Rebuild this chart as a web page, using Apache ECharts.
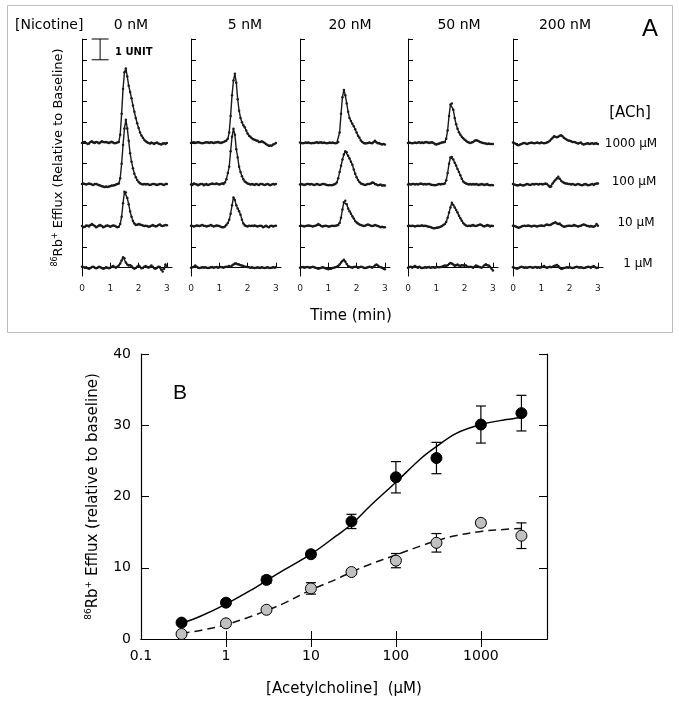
<!DOCTYPE html>
<html><head><meta charset="utf-8">
<script src="https://cdn.jsdelivr.net/npm/echarts@6/dist/echarts.min.js"></script>
<style>html,body{margin:0;padding:0;background:#fff}#c{width:679px;height:702px}</style>
</head><body><div id="c"></div>
<script>
// ---------- Panel A data ----------
const nicotineLabels = ['0 nM', '5 nM', '20 nM', '50 nM', '200 nM'];
const achLabels = ['1000 µM', '100 µM', '10 µM', '1 µM'];
const traceOffsets = [6, 4, 2, 0];           // vertical stacking of traces (units)
const timeStep = 0.05;                        // min between samples
const timeTicks = [0, 1, 2, 3];
const unitTicks = [0, 1, 2, 3, 4, 5, 6, 7, 8, 9, 10, 11];
const scaleBar = [[0.64, 10, 11]];            // 1 UNIT bar

const nic0_ach1000 = [0,.03,.05,0,-.05,-.03,.05,.08,.02,0,.05,.03,-.02,.02,.08,.05,.03,.05,.02,0,.03,.06,.02,-.02,0,.02,
 .05,.4,1.4,2.6,3.4,3.58,3.2,2.75,2.45,2.15,1.8,1.5,1.2,.95,.72,.5,.36,.25,.15,.08,.03,
 0,-.03,.02,-.02,-.05,0,.02,-.03,-.05,-.08,-.03,-.02,-.05,0];
const nic0_ach100 = [.03,.05,.02,0,.03,.05,.02,0,-.02,.02,.03,0,-.03,-.05,-.08,-.1,-.12,-.1,-.12,-.1,-.08,-.05,-.05,-.03,0,.02,
 .05,.3,1.0,1.9,2.7,3.12,2.7,2.1,1.5,1.1,.78,.52,.35,.22,.12,.06,.02,
 0,.02,0,.03,0,-.02,0,.02,.03,0,-.02,0,.03,.02,0,-.02,.02,.03];
const nic0_ach10 = [0,-.05,-.03,.03,.02,-.02,.05,.1,.05,0,-.05,-.02,.03,.05,0,-.05,-.03,.02,.03,0,-.03,0,.03,.02,-.02,-.05,
 -.03,.1,.45,1.1,1.65,1.62,1.35,1.05,.7,.45,.25,.12,.05,.06,.1,.08,.05,
 .03,0,.02,0,-.03,-.02,.02,.05,.02,-.02,0,.05,.08,.02,0,.03,.05,.04];
const nic0_ach1 = [.05,.03,0,.02,-.03,-.05,-.02,.03,.05,0,-.03,0,.05,.02,-.02,-.05,-.03,.02,0,-.03,0,.05,.08,.03,0,.05,
 .1,.2,.35,.5,.45,.25,.15,.1,.12,.08,0,-.05,-.02,.05,.1,.05,-.03,
 -.02,.05,.08,.03,0,.05,.1,.05,-.03,-.05,0,.05,.03,-.1,-.18,-.05,.15,.05];

const nic5_ach1000 = [0,.02,.03,0,.02,.03,.02,0,-.02,0,.02,.03,.02,0,.03,.02,0,.02,.03,.05,.02,0,.02,.05,.08,.1,
 .2,.5,1.3,2.3,3.0,3.33,2.9,2.1,1.55,1.2,1.0,.85,.75,.6,.45,.35,.3,.22,.18,.15,.12,
 .1,.05,.05,.08,.05,0,-.05,-.1,-.14,-.12,-.13,-.08,-.05,0];
const nic5_ach100 = [0,-.02,.05,.03,0,-.03,0,.03,.02,-.03,0,.03,-.02,0,.03,.05,.02,.03,.05,.02,0,.03,.05,.03,.1,.25,
 .55,.85,1.6,2.3,2.68,2.4,1.7,1.3,.85,.6,.4,.25,.15,.1,.05,.02,0,
 .02,0,-.02,.02,0,-.02,.02,.03,0,-.02,0,.02,0,-.03,0,.02,0,.02];
const nic5_ach10 = [.02,0,-.02,0,.03,.02,0,.03,.05,.02,0,-.02,0,.02,.05,.02,-.02,0,.03,.02,0,-.03,-.05,-.05,-.02,.05,
 .15,.3,.6,1.0,1.38,1.25,1.0,.85,.72,.55,.3,.12,.03,0,-.02,.02,0,
 .02,0,.03,0,-.02,0,.02,0,-.05,-.02,.02,-.03,-.05,0,.02,-.02,0,.02];
const nic5_ach1 = [0,.02,.05,.1,.05,0,-.02,0,.02,0,.02,0,-.02,0,.02,.03,0,.02,.03,0,.02,.03,.02,0,.03,.05,
 .05,.08,.05,.1,.15,.2,.2,.17,.15,.12,.1,.08,.05,.05,.03,.02,0,
 .02,0,-.02,0,.02,0,-.02,.02,0,-.02,0,.02,0,-.02,0,.02,0,.02];

const nic20_ach1000 = [.02,0,-.02,0,.02,0,.02,0,-.02,0,0,.02,.03,0,.02,.03,0,.02,0,-.02,0,.02,0,.02,0,-.02,
 0,.05,.5,1.4,2.2,2.55,2.3,1.9,1.5,1.2,1.05,.92,.8,.66,.5,.35,.25,.12,.05,0,-.03,
 -.02,0,.02,0,-.02,.05,.1,.03,-.02,0,-.05,-.08,-.05,-.08];
const nic20_ach100 = [0,.02,0,-.02,0,.02,.03,0,.02,0,-.02,0,.02,0,-.02,0,.02,.03,0,-.02,-.03,-.02,-.03,-.02,0,.02,
 .1,.3,.6,.9,1.2,1.45,1.6,1.55,1.38,1.25,1.1,.95,.72,.52,.35,.22,.12,.05,.02,0,-.02,
 0,.03,.02,.05,.1,.08,.03,0,-.03,-.02,0,-.05,-.03,-.05];
const nic20_ach10 = [0,.02,0,-.02,0,.02,.03,.02,0,-.02,0,.02,.05,.1,.05,0,-.02,0,.02,0,-.02,-.02,0,.02,0,.02,
 .03,.05,.15,.4,.8,1.15,1.22,1.05,.85,.72,.6,.48,.36,.25,.17,.12,.08,.05,.03,0,.02,
 .05,.08,.05,.02,0,.02,.05,.03,0,-.02,-.05,-.03,-.05,-.05];
const nic20_ach1 = [0,.02,.03,0,.02,.03,.02,0,.02,.05,.02,0,-.03,-.05,-.03,0,.02,0,-.03,-.05,-.08,-.05,-.05,-.02,0,.02,
 .05,.08,.15,.25,.32,.38,.3,.18,.08,.05,.02,0,.03,.05,.03,0,.02,.05,.03,0,-.02,
 0,.02,.05,.03,0,.05,.1,.15,.1,.05,.02,0,-.05,-.08];

const nic50_ach1000 = [0,.02,0,-.02,0,.02,0,.02,.03,0,.02,0,.03,.05,.02,0,.02,.03,0,-.05,-.08,-.05,-.03,0,.02,.03,
 .05,.2,.6,1.3,1.85,1.9,1.6,1.2,.9,.68,.52,.4,.3,.22,.15,.1,.05,.02,0,.02,.05,
 .1,.13,.12,.08,.05,.02,0,-.02,-.03,-.05,-.03,-.05,-.05,-.05];
const nic50_ach100 = [0,.02,0,.02,.03,0,.02,0,.02,.05,.02,0,.02,0,.02,.03,0,-.02,-.02,-.03,-.02,0,.02,0,.02,.03,
 .05,.2,.55,1.0,1.3,1.33,1.2,1.05,.92,.75,.6,.45,.28,.15,.08,.05,.03,0,.02,0,.02,
 0,.02,0,-.02,0,.02,0,-.02,0,.02,-.02,-.03,-.02,-.03];
const nic50_ach10 = [0,.02,0,.02,0,-.02,0,.02,0,.02,.03,0,.02,0,-.02,-.03,-.05,-.08,-.1,-.1,-.08,-.08,-.05,-.03,0,.05,
 .1,.2,.4,.65,.9,1.12,1.02,.9,.78,.65,.5,.38,.26,.15,.08,.03,0,.02,0,.03,.05,
 .02,0,.03,.05,.08,.05,0,-.02,.02,.05,.03,-.02,.02,0];
const nic50_ach1 = [0,.03,.05,0,.05,.08,.03,0,.05,0,-.02,0,.02,0,.02,.03,0,.02,.02,0,.02,.03,.02,.03,.05,.08,
 .1,.08,.12,.18,.22,.2,.15,.08,.12,.15,.1,.08,.12,.1,.12,.1,.05,.03,.05,.03,0,
 .05,.1,.08,.05,.02,0,.05,.12,.16,.12,.1,.05,-.05,-.13];

const nic200_ach1000 = [.02,0,-.05,-.1,-.11,-.08,-.05,-.02,0,-.03,-.05,-.02,0,.02,0,-.02,0,.02,0,-.02,.02,0,-.02,0,.02,.05,
 .1,.18,.25,.32,.3,.28,.3,.35,.37,.32,.25,.2,.15,.12,.1,.08,.05,.05,.03,0,-.03,
 0,.02,-.05,-.08,-.05,-.03,-.02,-.05,-.03,-.02,-.05,-.03,-.02,-.05];
const nic200_ach100 = [.02,0,-.02,-.05,-.03,0,-.02,-.05,-.03,0,.02,0,-.02,0,.02,0,.02,.03,0,.02,.03,0,.02,.05,.03,-.05,
 -.12,-.1,.05,.15,.22,.3,.37,.28,.18,.12,.08,.05,.05,.03,.02,0,.02,0,-.02,0,.02,
 0,-.02,-.03,0,.02,0,-.03,-.02,0,.02,-.02,.02,.05,.05];
const nic200_ach10 = [.02,0,-.02,-.05,-.08,-.05,-.02,0,.02,0,.02,.03,0,-.02,0,.02,0,-.02,0,.02,.03,.02,0,.05,.08,.05,
 .05,.08,.12,.15,.18,.12,.1,.12,.05,0,-.03,-.02,0,.02,.02,0,.02,.05,.03,0,-.02,
 0,.02,.05,.08,.05,.02,0,-.02,0,-.02,-.03,0,.1,.02];
const nic200_ach1 = [.02,0,-.03,-.05,-.02,.02,.05,.02,0,.02,0,.02,.03,.02,0,.02,.03,0,.02,0,.02,.05,.08,.02,0,.02,
 .05,.02,.05,.08,.1,.13,.08,0,-.05,-.05,-.02,0,.02,0,.02,0,-.02,0,.02,.05,.02,
 0,.02,0,-.02,0,.02,.05,.03,0,.05,.08,.02,-.02,0];

const panelTraces = [
  [nic0_ach1000, nic0_ach100, nic0_ach10, nic0_ach1],
  [nic5_ach1000, nic5_ach100, nic5_ach10, nic5_ach1],
  [nic20_ach1000, nic20_ach100, nic20_ach10, nic20_ach1],
  [nic50_ach1000, nic50_ach100, nic50_ach10, nic50_ach1],
  [nic200_ach1000, nic200_ach100, nic200_ach10, nic200_ach1]
];

// ---------- Panel B data ----------
const achConc = [0.3, 1, 3, 10, 30, 100, 300, 1000, 3000];
const effluxControl = [2.3, 5.1, 8.3, 11.9, 16.5, 22.7, 25.4, 30.1, 31.7];
const effluxControlErr = [0.2, 0.4, 0.5, 0.4, 1.0, 2.2, 2.2, 2.6, 2.5];
const effluxNicotine = [0.7, 2.2, 4.1, 7.1, 9.4, 11.0, 13.5, 16.3, 14.5];
const effluxNicotineErr = [0.1, 0.2, 0.2, 0.8, 0.3, 1.0, 1.3, 0.4, 1.8];
const fitConc = [0.3, 0.5, 1, 2, 3, 5, 10, 20, 30, 50, 100, 200, 300, 500, 1000, 2000, 3000];
const fitControl = [2.2, 3.2, 4.9, 6.9, 8.2, 9.8, 11.9, 14.5, 16.1, 18.7, 22.0, 25.4, 27.0, 28.8, 30.1, 30.8, 31.1];
const fitNicotine = [0.8, 1.2, 2.0, 3.2, 4.0, 5.1, 6.9, 8.4, 9.4, 10.5, 11.8, 13.1, 13.8, 14.5, 15.1, 15.4, 15.5];
const xTicksB = [0.1, 1, 10, 100, 1000];

// ---------- Layout ----------
const FONT = 'DejaVu Sans';
const gridLefts = [82, 191, 300, 408, 513];
const grids = gridLefts.map(l => ({left: l, top: 39, width: 90, height: 237}));
grids.push({left: 141, top: 354, width: 406, height: 285});

const xAxes = [], yAxes = [], series = [];
gridLefts.forEach((l, i) => {
  xAxes.push({
    gridIndex: i, type: 'value', min: 0, max: 3.18,
    axisLine: {lineStyle: {color: '#000', width: 1}},
    axisTick: {inside: true, length: 5, customValues: timeTicks, lineStyle: {color: '#000'}},
    axisLabel: {customValues: timeTicks, fontSize: 9, color: '#222', margin: 8, fontFamily: FONT},
    splitLine: {show: false}
  });
  yAxes.push({
    gridIndex: i, type: 'value', min: -0.4, max: 11,
    axisLine: {show: true, lineStyle: {color: '#000', width: 1}},
    axisTick: {show: true, inside: true, length: 5, customValues: unitTicks, lineStyle: {color: '#000'}},
    axisLabel: {show: false, customValues: unitTicks},
    splitLine: {show: false},
    name: i === 0 ? '{sup|86}Rb{sup|+} Efflux (Relative to Baseline)' : '',
    nameLocation: 'middle', nameRotate: 90, nameGap: 15,
    nameTextStyle: {fontSize: 13, fontFamily: FONT, color: '#000', lineHeight: 16,
      rich: {sup: {fontSize: 8, fontFamily: FONT, verticalAlign: 'top', lineHeight: 16}}}
  });
  panelTraces[i].forEach((tr, j) => {
    series.push({
      type: 'line', xAxisIndex: i, yAxisIndex: i,
      data: tr.map((v, k) => [k * timeStep, traceOffsets[j] + v]),
      symbol: 'circle', symbolSize: 2.5, showSymbol: true,
      lineStyle: {color: '#1a1a1a', width: 1.4},
      itemStyle: {color: '#1a1a1a'},
      silent: true, animation: false
    });
  });
});

// scale bar in panel 0 (data units)
series.push({
  type: 'custom', xAxisIndex: 0, yAxisIndex: 0, data: scaleBar, silent: true,
  renderItem: (p, api) => {
    const a = api.coord([api.value(0), api.value(1)]);
    const b = api.coord([api.value(0), api.value(2)]);
    const s = {stroke: '#000', lineWidth: 1};
    return {type: 'group', children: [
      {type: 'line', shape: {x1: a[0], y1: a[1], x2: b[0], y2: b[1]}, style: s},
      {type: 'line', shape: {x1: a[0] - 8.5, y1: a[1], x2: a[0] + 8.5, y2: a[1]}, style: s},
      {type: 'line', shape: {x1: b[0] - 8.5, y1: b[1], x2: b[0] + 8.5, y2: b[1]}, style: s}
    ]};
  }
});

// Panel B axes
const bx = 5;
xAxes.push({
  gridIndex: bx, type: 'log', logBase: 10, min: 0.1, max: 6000, position: 'bottom',
  axisLine: {lineStyle: {color: '#000', width: 1.2}},
  axisTick: {inside: true, length: 8, customValues: [1, 10, 100, 1000], lineStyle: {color: '#000'}},
  axisLabel: {customValues: xTicksB, fontSize: 14, fontFamily: FONT, color: '#000', margin: 10,
    formatter: v => String(v)},
  splitLine: {show: false},
  name: '[Acetylcholine]  (μM)', nameLocation: 'middle', nameGap: 43,
  nameTextStyle: {fontSize: 15, fontFamily: FONT, color: '#000'}
});
xAxes.push({
  gridIndex: bx, type: 'log', logBase: 10, min: 0.1, max: 6000, position: 'top',
  axisLine: {lineStyle: {color: '#000', width: 1.2}},
  axisTick: {inside: true, length: 8, customValues: [1, 10, 100, 1000], lineStyle: {color: '#000'}},
  axisLabel: {show: false}, splitLine: {show: false}
});
yAxes.push({
  gridIndex: bx, type: 'value', min: 0, max: 40, interval: 10, position: 'left',
  axisLine: {show: true, lineStyle: {color: '#000', width: 1.2}},
  axisTick: {show: true, inside: true, length: 8, lineStyle: {color: '#000'}},
  axisLabel: {fontSize: 14, fontFamily: FONT, color: '#000', margin: 10},
  splitLine: {show: false},
  name: '{sup|86}Rb{sup|+} Efflux (relative to baseline)', nameLocation: 'middle', nameRotate: 90, nameGap: 28,
  nameTextStyle: {fontSize: 15, fontFamily: FONT, color: '#000', lineHeight: 18,
    rich: {sup: {fontSize: 9, fontFamily: FONT, verticalAlign: 'top', lineHeight: 18}}}
});
yAxes.push({
  gridIndex: bx, type: 'value', min: 0, max: 40, interval: 10, position: 'right',
  axisLine: {show: true, lineStyle: {color: '#000', width: 1.2}},
  axisTick: {show: true, inside: true, length: 8, lineStyle: {color: '#000'}},
  axisLabel: {show: false}, splitLine: {show: false}
});
const bX = 5, bY = 5;

function errBars(vals, errs) {
  return {
    type: 'custom', xAxisIndex: bX, yAxisIndex: bY, z: 3, silent: true,
    data: achConc.map((c, i) => [c, vals[i] - errs[i], vals[i] + errs[i]]),
    encode: {x: 0, y: [1, 2]},
    renderItem: (p, api) => {
      const lo = api.coord([api.value(0), api.value(1)]);
      const hi = api.coord([api.value(0), api.value(2)]);
      const s = {stroke: '#000', lineWidth: 1.2};
      return {type: 'group', children: [
        {type: 'line', shape: {x1: lo[0], y1: lo[1], x2: hi[0], y2: hi[1]}, style: s},
        {type: 'line', shape: {x1: lo[0] - 5, y1: lo[1], x2: lo[0] + 5, y2: lo[1]}, style: s},
        {type: 'line', shape: {x1: hi[0] - 5, y1: hi[1], x2: hi[0] + 5, y2: hi[1]}, style: s}
      ]};
    }
  };
}
series.push({
  type: 'line', xAxisIndex: bX, yAxisIndex: bY, z: 2, smooth: 0.35, showSymbol: false, symbol: 'none',
  data: fitConc.map((c, i) => [c, fitControl[i]]),
  lineStyle: {color: '#000', width: 1.5}, silent: true
});
series.push({
  type: 'line', xAxisIndex: bX, yAxisIndex: bY, z: 2, smooth: 0.35, showSymbol: false, symbol: 'none',
  data: fitConc.map((c, i) => [c, fitNicotine[i]]),
  lineStyle: {color: '#111', width: 1.5, type: [8, 5]}, silent: true
});
series.push(errBars(effluxControl, effluxControlErr));
series.push(errBars(effluxNicotine, effluxNicotineErr));
series.push({
  type: 'scatter', xAxisIndex: bX, yAxisIndex: bY, z: 4, symbolSize: 11, silent: true,
  data: achConc.map((c, i) => [c, effluxControl[i]]),
  itemStyle: {color: '#000', borderColor: '#000', borderWidth: 1, opacity: 1}
});
series.push({
  type: 'scatter', xAxisIndex: bX, yAxisIndex: bY, z: 4, symbolSize: 11, silent: true,
  data: achConc.map((c, i) => [c, effluxNicotine[i]]),
  itemStyle: {color: '#c0c0c0', borderColor: '#000', borderWidth: 1, opacity: 1}
});

// ---------- Annotations ----------
const txt = (text, x, y, size, align, opts) => Object.assign({
  type: 'text', x: x, y: y, silent: true,
  style: {text: text, fill: '#000', font: size + 'px "' + FONT + '"', textAlign: align || 'center',
    textVerticalAlign: 'middle', verticalAlign: 'middle'}
}, opts || {});
const titleX = [131, 245, 350, 459, 565];
const achLabelPos = [[631, 144], [634, 182], [636, 223], [638, 264]];
const graphic = [
  {type: 'rect', shape: {x: 7.5, y: 5.5, width: 665, height: 327}, style: {fill: null, stroke: '#bdbdbd', lineWidth: 1}, silent: true},
  txt('[Nicotine]', 15, 25, 14, 'left'),
  ...nicotineLabels.map((t, i) => txt(t, titleX[i], 25, 14)),
  {type: 'text', x: 650, y: 29, silent: true, style: {text: 'A', fill: '#000', font: '24px "Liberation Sans"', textAlign: 'center', verticalAlign: 'middle', textVerticalAlign: 'middle'}},
  txt('[ACh]', 630, 113, 15),
  ...achLabels.map((t, i) => txt(t, achLabelPos[i][0], achLabelPos[i][1], 12)),
  txt('Time (min)', 351, 316, 15),
  {type: 'text', x: 115, y: 52, silent: true, style: {text: '1 UNIT', fill: '#000', font: 'bold 10px "DejaVu Sans"', textAlign: 'left', verticalAlign: 'middle', textVerticalAlign: 'middle'}},
  {type: 'text', x: 180, y: 393, silent: true, style: {text: 'B', fill: '#000', font: '21px "Liberation Sans"', textAlign: 'center', verticalAlign: 'middle', textVerticalAlign: 'middle'}}
];

const chart = echarts.init(document.getElementById('c'), null, {renderer: 'canvas'});
chart.setOption({
  animation: false,
  backgroundColor: '#fff',
  textStyle: {fontFamily: FONT},
  grid: grids,
  xAxis: xAxes,
  yAxis: yAxes,
  series: series,
  graphic: graphic
});
</script>
</body></html>
